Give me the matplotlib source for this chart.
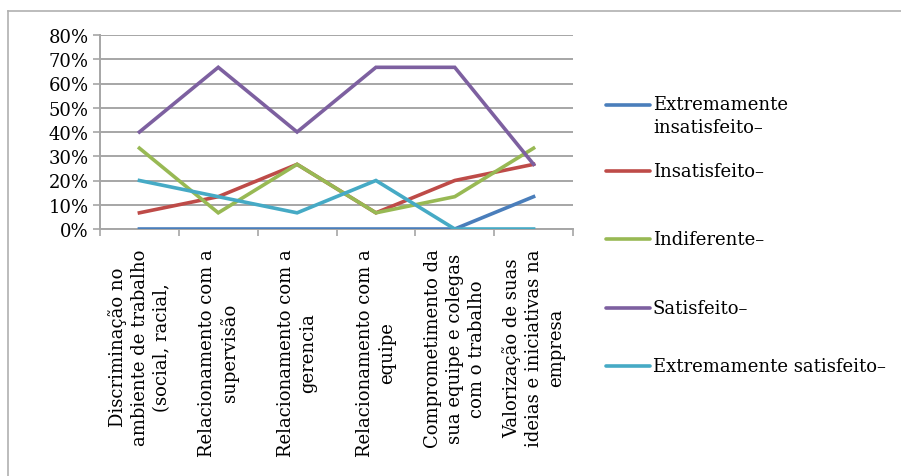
import matplotlib
matplotlib.use("Agg")
import matplotlib.pyplot as plt
import numpy as np
from matplotlib.lines import Line2D

plt.rcParams['font.family'] = ['DejaVu Serif']

categories = [
    "Discriminação no\nambiente de trabalho\n(social, racial,",
    "Relacionamento com a\nsupervisão",
    "Relacionamento com a\ngerencia",
    "Relacionamento com a\nequipe",
    "Comprometimento da\nsua equipe e colegas\ncom o trabalho",
    "Valorização de suas\nideias e iniciativas na\nempresa",
]

series_names = [
    "Extremamente\ninsatisfeito–",
    "Insatisfeito–",
    "Indiferente–",
    "Satisfeito–",
    "Extremamente satisfeito–",
]

# percentages per category
extremamente_insatisfeito = [0, 0, 0, 0, 0, 13.33]
insatisfeito = [6.67, 13.33, 26.67, 6.67, 20.0, 26.67]
indiferente = [33.33, 6.67, 26.67, 6.67, 13.33, 33.33]
satisfeito = [40.0, 66.67, 40.0, 66.67, 66.67, 26.67]
extremamente_satisfeito = [20.0, 13.33, 6.67, 20.0, 0, 0]

series_values = [extremamente_insatisfeito, insatisfeito, indiferente,
                 satisfeito, extremamente_satisfeito]
colors = ['#4A7EBB', '#BE4B48', '#98B954', '#7D60A0', '#46AAC5']

W, H = 901, 477
fig = plt.figure(figsize=(W / 100, H / 100), dpi=100)
ax = fig.add_axes([100 / W, 1 - 230 / H, 473 / W, 194 / H])

x = np.arange(len(categories))
for vals, c in zip(series_values, colors):
    ax.plot(x, vals, color=c, lw=2.6, solid_joinstyle='miter', zorder=3)

ax.set_xlim(-0.5, len(categories) - 0.5)
ax.set_ylim(0, 80)
ax.set_yticks(np.arange(0, 81, 10))
ax.set_yticklabels([f"{v}%" for v in range(0, 81, 10)], fontsize=13)
ax.yaxis.grid(True, color='#A6A6A6', lw=1.4)
ax.set_axisbelow(True)

ax.set_xticks(x)
ax.set_xticklabels(categories, rotation=90, fontsize=13, linespacing=1.3)
for lab in ax.get_xticklabels():
    lab.set_multialignment('center')
ax.tick_params(axis='x', which='major', length=0, pad=14)
ax.set_xticks(np.arange(-0.5, len(categories)), minor=True)
ax.tick_params(axis='x', which='minor', length=5, color='#A6A6A6', width=1.2)
ax.tick_params(axis='y', length=5, color='#A6A6A6', width=1.2, pad=3)

for side in ['top', 'right']:
    ax.spines[side].set_visible(False)
for side in ['left', 'bottom']:
    ax.spines[side].set_color('#A6A6A6')
    ax.spines[side].set_linewidth(1.4)

# legend on the right
legend_y = [106, 172, 240, 309, 367]
for name, c, ly in zip(series_names, colors, legend_y):
    fy = 1 - ly / H
    fig.add_artist(Line2D([606 / W, 650 / W], [fy, fy], color=c, lw=2.6,
                          solid_capstyle='round'))
    if '\n' in name:
        fig.text(653 / W, fy + 10 / H, name, fontsize=13, va='top', ha='left',
                 linespacing=1.35)
    else:
        fig.text(653 / W, fy, name, fontsize=13, va='center', ha='left')

# outer frame (top and left edges)
fig.add_artist(Line2D([8 / W, 1], [1 - 12 / H, 1 - 12 / H], color='#B0B0B0', lw=1.2))
fig.add_artist(Line2D([8 / W, 8 / W], [0, 1 - 12 / H], color='#B0B0B0', lw=1.2))

fig.savefig("out.png", dpi=100)
